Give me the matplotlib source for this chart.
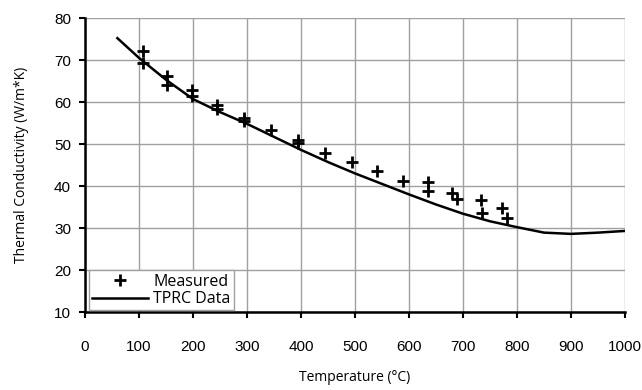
import matplotlib
matplotlib.use("Agg")
import matplotlib.pyplot as plt

# Measured points (temperature in C, conductivity in W/m*K)
meas_t = [108, 108, 151, 152, 198, 198, 245, 245, 294, 294, 344, 395, 395,
          444, 494, 541, 588, 635, 636, 679, 688, 733, 735, 773, 781]
meas_k = [72.1, 69.2, 66.3, 64.0, 62.9, 61.4, 59.3, 58.3, 56.3, 55.5, 53.3,
          51.0, 50.3, 47.9, 45.8, 43.6, 41.2, 41.0, 38.9, 38.4, 36.8, 36.7,
          33.5, 34.7, 32.5]

# TPRC reference curve
tprc_t = [60, 100, 150, 200, 250, 300, 350, 400, 450, 500, 550, 600, 650,
          700, 750, 800, 850, 900, 950, 1000]
tprc_k = [75.2, 70.5, 65.3, 60.7, 57.6, 54.8, 51.7, 48.6, 45.7, 43.0, 40.5,
          38.0, 35.6, 33.4, 31.6, 30.2, 28.9, 28.6, 28.9, 29.3]

fig = plt.figure(figsize=(6.42, 3.9), dpi=100)
ax = fig.add_axes([85 / 642, 1 - 312 / 390, 540 / 642, 294 / 390])

ax.plot(tprc_t, tprc_k, color="black", lw=1.8, label="TPRC Data", zorder=3)
ax.plot(meas_t, meas_k, linestyle="none", marker="+", ms=8, mew=2,
        color="black", label="Measured", zorder=4)

ax.set_xlim(0, 1000)
ax.set_ylim(10, 80)
ax.set_xticks(range(0, 1001, 100))
ax.set_yticks(range(10, 81, 10))
ax.grid(True, color="#a0a0a0", lw=1)
ax.set_axisbelow(True)
for s in ["top", "right"]:
    ax.spines[s].set_visible(False)
for s in ["left", "bottom"]:
    ax.spines[s].set_linewidth(1.8)
ax.tick_params(direction="out", length=4, width=1.5, labelsize=11,
               labelfontfamily="Liberation Sans")
ax.tick_params(axis="x", pad=16)
ax.tick_params(axis="y", pad=6)

ax.set_xlabel("Temperature (°C)", fontsize=10, family="Open Sans", labelpad=12)
ax.set_ylabel("Thermal Conductivity (W/m*K)", fontsize=10, family="Open Sans",
              labelpad=18)

h, l = ax.get_legend_handles_labels()
leg = ax.legend(h[::-1], l[::-1], loc="lower left", bbox_to_anchor=(0.005, 0.0),
                prop={"family": "Open Sans", "size": 11.5}, frameon=True,
                fancybox=False, edgecolor="#a0a0a0", framealpha=1,
                borderpad=0.2, labelspacing=0.1, handlelength=3.5,
                handletextpad=0.3, borderaxespad=0.1)
leg.get_frame().set_linewidth(1)

fig.savefig("out.png", dpi=100)
